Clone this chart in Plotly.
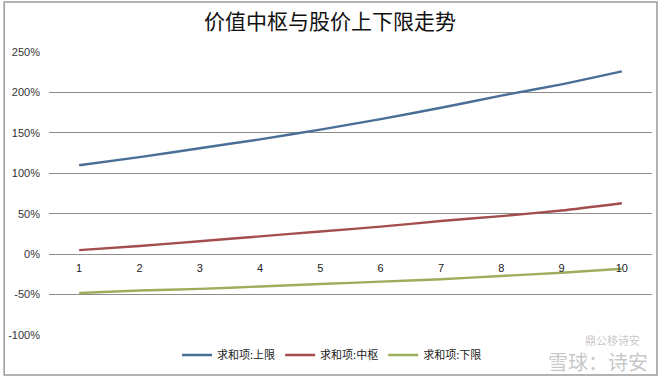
import plotly.graph_objects as go

periods = [1, 2, 3, 4, 5, 6, 7, 8, 9, 10]
upper = [110, 120, 131, 142, 154, 167, 181, 196, 210, 226]
middle = [5, 10, 16, 22, 28, 34, 41, 47, 54, 63]
lower = [-48, -45, -43, -40, -37, -34, -31, -27, -23, -18]
series_names = ["求和项:上限", "求和项:中枢", "求和项:下限"]
colors = ["#4a6f96", "#a34d4d", "#9bae5c"]
y_ticks = [-100, -50, 0, 50, 100, 150, 200, 250]
y_tick_labels = ["-100%", "-50%", "0%", "50%", "100%", "150%", "200%", "250%"]
title_text = "价值中枢与股价上下限走势"

W, H = 660, 378
ml, mr, mt, mb = 47, 8, 52, 43
y_min, y_max = -100, 250

fig = go.Figure()
for name, vals, col in zip(series_names, [upper, middle, lower], colors):
    fig.add_trace(go.Scatter(x=periods, y=vals, mode="lines", name=name,
                             line=dict(color=col, width=2.4, shape="spline", smoothing=0.6)))

pw = W - ml - mr
ph = H - mt - mb
font = "Noto Sans CJK SC, Liberation Sans, sans-serif"

fig.update_layout(
    width=W, height=H,
    margin=dict(l=ml, r=mr, t=mt, b=mb),
    paper_bgcolor="white", plot_bgcolor="white",
    font=dict(family=font, size=11, color="#333"),
    title=dict(text=title_text, x=0.5, xanchor="center", y=1 - 22 / H, yanchor="middle",
               font=dict(family=font, size=21, color="#111")),
    showlegend=True,
    legend=dict(orientation="h", x=(331 - ml) / pw, xanchor="center",
                y=-(355 - (H - mb)) / ph, yanchor="middle",
                font=dict(family=font, size=11, color="#222"),
                itemwidth=30, bgcolor="rgba(0,0,0,0)"),
    xaxis=dict(range=[0.5, 10.5], tickvals=periods, ticktext=[str(p) for p in periods],
               showgrid=False, zeroline=False, showline=False, ticks="",
               anchor="free", position=(0 - y_min) / (y_max - y_min), ticklabelstandoff=6,
               tickfont=dict(family="Liberation Sans, sans-serif", size=11, color="#222")),
    yaxis=dict(range=[y_min, y_max], tickvals=y_ticks, ticktext=y_tick_labels,
               showgrid=True, gridcolor="#8c8c8c", gridwidth=1, zeroline=False,
               showline=False, ticks="", ticklabelstandoff=8,
               tickfont=dict(family="Liberation Sans, sans-serif", size=11, color="#333")),
)

# outer chart border
fig.add_shape(type="rect", xref="paper", yref="paper",
              x0=(2 - ml) / pw, x1=(657 - ml) / pw,
              y0=((H - mb) - 375) / ph, y1=((H - mb) - 2) / ph,
              line=dict(color="#9a9a9a", width=1.5), fillcolor="rgba(0,0,0,0)", layer="below")

# watermark
fig.add_annotation(text="鼎公移诗安", xref="paper", yref="paper",
                   x=(642 - ml) / pw, y=-(340 - (H - mb)) / ph, xanchor="right", yanchor="middle",
                   showarrow=False, font=dict(family=font, size=11, color="rgba(140,140,140,0.5)"))
fig.add_annotation(text="雪球：诗安", xref="paper", yref="paper",
                   x=(650 - ml) / pw, y=-(361 - (H - mb)) / ph, xanchor="right", yanchor="middle",
                   showarrow=False, font=dict(family=font, size=20, color="rgba(150,150,150,0.55)"))

fig.write_html("out.html", config={"displayModeBar": False},
               post_script="document.body.style.margin='0';")
